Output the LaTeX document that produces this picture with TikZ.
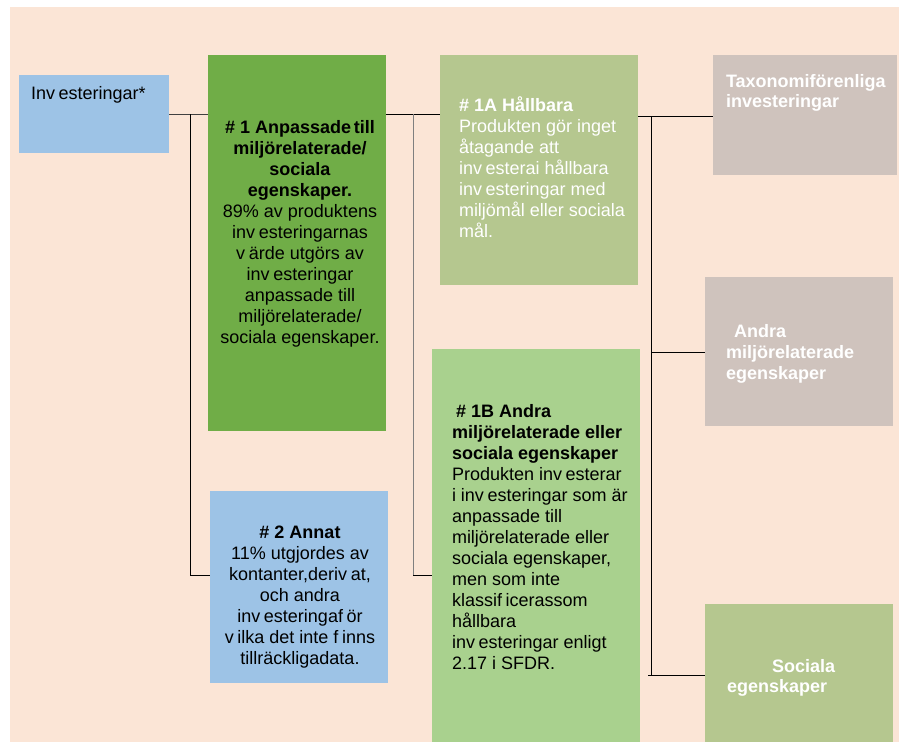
\documentclass[tikz,border=0pt]{standalone}
\usepackage{fontspec}
\setmainfont{Liberation Sans}
\usetikzlibrary{calc}
\definecolor{peach}{HTML}{FBE5D6}
\definecolor{bluebox}{HTML}{9DC3E6}
\definecolor{greenA}{HTML}{70AD47}
\definecolor{greenB}{HTML}{B5C78F}
\definecolor{greenC}{HTML}{A9D18E}
\definecolor{taupe}{HTML}{CFC3BD}
\definecolor{linegray}{HTML}{7F7F7F}
\newcommand\gp{\kern.2em}
\newcommand\fl{\rule{0pt}{14pt}}
\begin{document}
\begin{tikzpicture}[x=1pt,y=-1pt,
  box/.style={draw=none, inner sep=0pt, outer sep=0pt, anchor=north west},
  txt/.style={inner sep=0pt, outer sep=0pt, font=\fontsize{18}{21}\selectfont},
  lnk/.style={draw=black, line width=1pt},
]
\useasboundingbox (0,0) rectangle (899,742);
\fill[white] (0,0) rectangle (899,742);
\fill[peach] (10,7) rectangle (899,742);

% boxes
\node[box, fill=bluebox, minimum width=150pt, minimum height=78pt] (inv) at (19,75) {};
\node[box, fill=greenA, minimum width=178pt, minimum height=376pt] (b1) at (208,55) {};
\node[box, fill=bluebox, minimum width=178pt, minimum height=192pt] (b2) at (210,491) {};
\node[box, fill=greenB, minimum width=198pt, minimum height=230pt] (b1a) at (440,55) {};
\node[box, fill=greenC, minimum width=208pt, minimum height=393pt] (b1b) at (432,349) {};
\node[box, fill=taupe, minimum width=184pt, minimum height=120pt] (tax) at (713,55) {};
\node[box, fill=taupe, minimum width=188pt, minimum height=149pt] (andra) at (705,277) {};
\node[box, fill=greenB, minimum width=188pt, minimum height=138pt] (soc) at (705,604) {};

% texts
\node[txt, anchor=north west] (inv-t) at (31,85) {\fl Inv\gp esteringar*};
\node[txt, anchor=north, align=center] (b1-t) at (300,119)
  {\fl\textbf{\# 1 Anpassade\kern.15em till}\\
   \textbf{miljörelaterade/}\\
   \textbf{sociala}\\
   \textbf{egenskaper.}\\
   89\% av produktens\\
   inv\gp esteringarnas\\
   v\gp ärde utgörs av\\
   inv\gp esteringar\\
   anpassade till\\
   miljörelaterade/\\
   sociala egenskaper.};
\node[txt, anchor=north, align=center] (b2-t) at (300,524)
  {\fl\textbf{\# 2 Annat}\\
   11\% utgjordes av\\
   kontanter,deriv\gp at,\\
   och andra\\
   inv\gp esteringaf\gp ör\\
   v\gp ilka det inte f\gp inns\\
   tillräckligadata.};
\node[txt, anchor=north west, align=left, text=white] (b1a-t) at (459,97)
  {\fl\textbf{\# 1A Hållbara}\\
   Produkten gör inget\\
   åtagande att\\
   inv\gp esterai hållbara\\
   inv\gp esteringar med\\
   miljömål eller sociala\\
   mål.};
\node[txt, anchor=north west, align=left] (b1b-t) at (452,403)
  {\fl\kern4pt\textbf{\# 1B Andra}\\
   \textbf{miljörelaterade eller}\\
   \textbf{sociala egenskaper}\\
   Produkten inv\gp esterar\\
   i inv\gp esteringar som är\\
   anpassade till\\
   miljörelaterade eller\\
   sociala egenskaper,\\
   men som inte\\
   klassif\gp icerassom\\
   hållbara\\
   inv\gp esteringar enligt\\
   2.17 i SFDR.};
\node[txt, anchor=north west, align=left, text=white, font=\fontsize{18}{20}\selectfont\bfseries] (tax-t) at (726,73)
  {\fl Taxonomiförenliga\\investeringar};
\node[txt, anchor=north west, align=left, text=white, font=\fontsize{18}{21}\selectfont\bfseries] (andra-t) at (726,323)
  {\fl\kern8pt Andra\\miljörelaterade\\egenskaper};
\node[txt, anchor=north west, align=left, text=white, font=\fontsize{18}{20}\selectfont\bfseries] (soc-t) at (727,658)
  {\fl\kern45pt Sociala\\egenskaper};

% connectors
\coordinate (y114) at (0,114);
\coordinate (y116) at (0,116);
\coordinate (y352) at (0,352);
\coordinate (y575) at (0,575);
\coordinate (y675) at (0,675);
\coordinate (j1) at (190,114);
\coordinate (j2) at (413,114);
\coordinate (j3) at (651,116);

\draw[lnk, draw=black!75] (inv.east) -- (b1.west |- inv.east);
\draw[lnk] (j1) |- (b2.west |- y575);
\draw[lnk] (b1.east |- y114) -- (b1a.west |- y114);
\draw[lnk, draw=linegray] (j2) -- (j2 |- y575);
\draw[lnk] (j2 |- y575) -- (b1b.west |- y575);
\draw[lnk] (b1a.east |- y116) -- (tax.west |- y116);
\draw[lnk] (j3) -- (j3 |- y675);
\draw[lnk] (j3 |- y352) -- (andra.west |- y352);
\draw[lnk] ([xshift=-3pt]j3 |- y675) -- (soc.west |- y675);
\end{tikzpicture}
\end{document}
